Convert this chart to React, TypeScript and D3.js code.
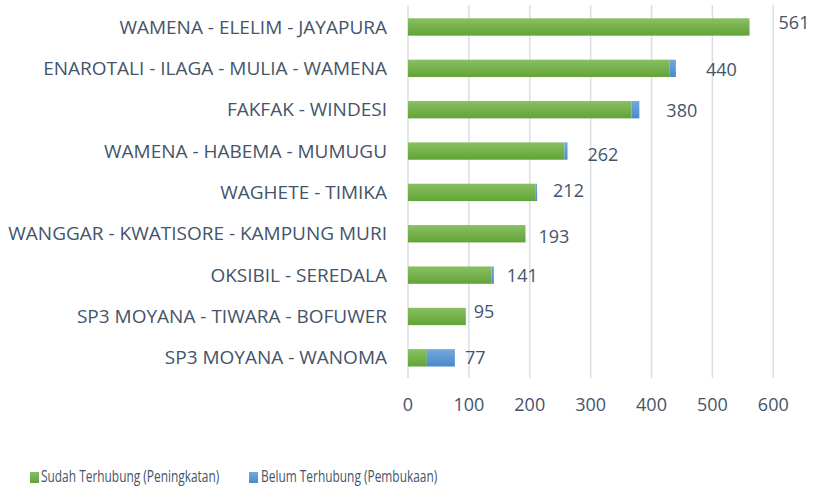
import React from "react";
import * as d3 from "d3";

const categories = [
  "WAMENA - ELELIM - JAYAPURA",
  "ENAROTALI - ILAGA - MULIA - WAMENA",
  "FAKFAK - WINDESI",
  "WAMENA - HABEMA - MUMUGU",
  "WAGHETE - TIMIKA",
  "WANGGAR - KWATISORE - KAMPUNG MURI",
  "OKSIBIL - SEREDALA",
  "SP3 MOYANA - TIWARA - BOFUWER",
  "SP3 MOYANA - WANOMA",
];
const sudahTerhubung = [561, 430, 367, 257, 210, 193, 137, 95, 31];
const belumTerhubung = [0, 10, 13, 5, 2, 0, 4, 0, 46];
const totals = [561, 440, 380, 262, 212, 193, 141, 95, 77];
const xTicks = [0, 100, 200, 300, 400, 500, 600];
const seriesNames = ["Sudah Terhubung (Peningkatan)", "Belum Terhubung (Pembukaan)"];
// manual label nudges (as dragged in the original)
const labelNudgeX = [29, 30, 27, 20, 16, 13, 13, 8, 10];
const labelNudgeY = [-4, 1.5, 1.5, 3.5, -2, 2.5, 0.5, -4.5, 0];

const W = 815;
const H = 489;
const FONT = "'Open Sans', sans-serif";
const TEXT = "#44546A";

export default function App() {
  const x = d3.scaleLinear().domain([0, 600]).range([408, 773.3]);
  const y = d3
    .scaleBand<string>()
    .domain(categories)
    .range([6.3, 378.5])
    .paddingInner(0.58)
    .paddingOuter(0.29);

  const rows = categories.map((c, i) => ({
    c,
    s: sudahTerhubung[i],
    b: belumTerhubung[i],
    t: totals[i],
    i,
  }));

  const legendScaleX = 0.745;

  return (
    <div style={{ position: "absolute", left: 0, top: 0, width: W, height: H, overflow: "hidden" }}>
      <svg width={W} height={H} style={{ display: "block", background: "#fff" }}>
        <defs>
          <linearGradient id="gGreen" x1="0" y1="0" x2="0" y2="1">
            <stop offset="0" stopColor="#8AC063" />
            <stop offset="1" stopColor="#62A337" />
          </linearGradient>
          <linearGradient id="gBlue" x1="0" y1="0" x2="0" y2="1">
            <stop offset="0" stopColor="#72AADF" />
            <stop offset="1" stopColor="#4A89C9" />
          </linearGradient>
        </defs>
        {xTicks.map((t) => (
          <line
            key={t}
            x1={x(t)}
            x2={x(t)}
            y1={5}
            y2={378}
            stroke="#D9DEE5"
            strokeWidth={1.5}
          />
        ))}
        {xTicks.map((t) => (
          <text
            key={"l" + t}
            x={x(t)}
            y={405}
            dy="0.35em"
            textAnchor="middle"
            fontFamily={FONT}
            fontSize={18}
            fill={TEXT}
          >
            {t}
          </text>
        ))}
        {rows.map((r) => (
          <text
            key={"c" + r.i}
            x={387}
            y={(y(r.c) as number) + y.bandwidth() / 2}
            dy="0.35em"
            textAnchor="end"
            fontFamily={FONT}
            fontSize={19}
            fill={TEXT}
          >
            {r.c}
          </text>
        ))}
        {rows.map((r) => (
          <g key={"b" + r.i}>
            <rect
              x={x(0)}
              y={y(r.c)}
              width={x(r.s) - x(0)}
              height={y.bandwidth()}
              fill="url(#gGreen)"
            />
            {r.b > 0 && (
              <rect
                x={x(r.s)}
                y={y(r.c)}
                width={x(r.s + r.b) - x(r.s)}
                height={y.bandwidth()}
                fill="url(#gBlue)"
              />
            )}
            <text
              x={x(r.t) + labelNudgeX[r.i]}
              y={(y(r.c) as number) + y.bandwidth() / 2 + labelNudgeY[r.i]}
              dy="0.35em"
              fontFamily={FONT}
              fontSize={18}
              fill={TEXT}
            >
              {r.t}
            </text>
          </g>
        ))}
        <g>
          <rect x={30} y={472} width={9} height={11} fill="url(#gGreen)" />
          <text
            transform={`translate(41,476.5) scale(${legendScaleX},1)`}
            dy="0.35em"
            fontFamily={FONT}
            fontSize={16}
            fill={TEXT}
          >
            {seriesNames[0]}
          </text>
          <rect x={249} y={472} width={9} height={11} fill="url(#gBlue)" />
          <text
            transform={`translate(261,476.5) scale(${legendScaleX},1)`}
            dy="0.35em"
            fontFamily={FONT}
            fontSize={16}
            fill={TEXT}
          >
            {seriesNames[1]}
          </text>
        </g>
      </svg>
    </div>
  );
}
